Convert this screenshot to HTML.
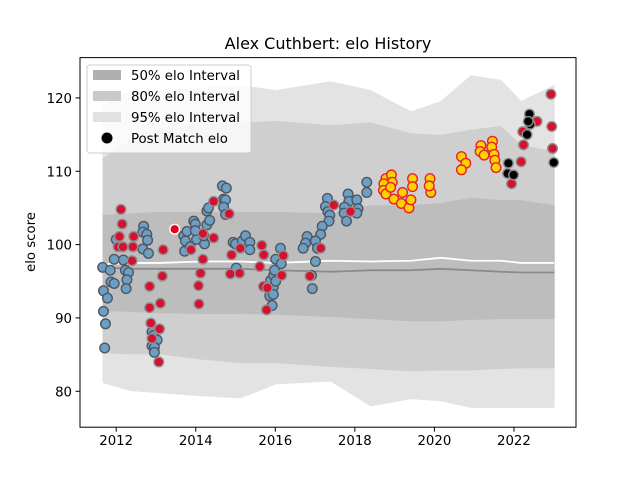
<!DOCTYPE html>
<html><head><meta charset="utf-8"><style>
body{margin:0;background:#fff}
svg{display:block;font-family:"DejaVu Sans","Liberation Sans",sans-serif}
</style></head><body>
<svg id="chart" width="640" height="480" xmlns="http://www.w3.org/2000/svg">
<rect width="640" height="480" fill="#fff"/>
<text x="328" y="49" font-size="16" text-anchor="middle">Alex Cuthbert: elo History</text>
<g id="plot"></g>
<g id="axes"></g>
<text transform="translate(35,242) rotate(-90)" font-size="13.3" text-anchor="middle">elo score</text>
<g>
<rect x="87" y="65" width="164" height="88" rx="3" fill="#fff" fill-opacity="0.8" stroke="#ccc"/>
<rect x="93" y="70" width="28" height="10" fill="#b0b0b0"/>
<text x="131" y="80" font-size="13.3">50% elo Interval</text>
<rect x="93" y="91" width="28" height="10" fill="#c9c9c9"/>
<text x="131" y="101" font-size="13.3">80% elo Interval</text>
<rect x="93" y="112" width="28" height="10" fill="#e1e1e1"/>
<text x="131" y="122" font-size="13.3">95% elo Interval</text>
<circle cx="107" cy="138" r="5.5" fill="#000"/>
<text x="131" y="143" font-size="13.3">Post Match elo</text>
</g>
</svg>
<script>
const bandYears=[2011.67,2012.35,2013.11,2014.12,2015.12,2016.01,2017.39,2018.40,2019.41,2020.16,2020.92,2021.67,2022.18,2023.01];
const hi95=[119.0,120.9,121.0,121.3,121.7,121.0,122.2,121.0,118.1,119.5,123.0,122.4,119.5,121.7];
const hi80=[111.7,114.2,115.6,116.5,116.5,116.8,116.2,116.6,115.1,114.9,115.6,116.1,113.5,112.7];
const hi50=[104.0,104.2,104.4,104.4,104.4,104.4,104.2,105.3,105.3,105.6,106.3,106.0,106.0,105.3];
const lo50=[91.0,90.9,90.7,90.6,90.6,90.5,90.2,89.9,89.6,89.6,89.8,89.9,89.9,89.9];
const lo80=[85.3,85.1,85.1,84.4,83.9,83.9,83.4,83.1,82.8,82.9,82.9,83.1,83.2,83.2];
const lo95=[81.2,80.1,79.8,79.4,79.1,81.0,81.4,78.0,79.0,78.7,77.8,77.8,77.8,77.8];
const meanWhite=[97.3,97.5,97.5,97.7,97.7,97.5,97.8,97.7,97.8,98.2,97.8,97.8,97.5,97.5];
const meanGrey=[96.9,96.7,96.7,96.7,96.7,96.5,96.3,96.5,96.5,96.7,96.5,96.3,96.2,96.2];
const blueYears=[2011.66,2011.68,2011.78,2011.68,2011.73,2011.71,2011.85,2011.95,2011.87,2011.95,2012.00,2012.18,2012.23,2012.31,2012.27,2012.25,2012.69,2012.67,2012.77,2012.79,2012.67,2012.81,2012.90,2012.94,2013.03,2012.90,2012.96,2012.96,2013.70,2013.74,2013.78,2013.72,2013.86,2013.95,2013.99,2014.02,2013.99,2014.22,2014.20,2014.28,2014.35,2014.28,2014.32,2014.67,2014.77,2014.70,2014.75,2014.70,2014.75,2014.94,2015.00,2015.17,2015.25,2015.36,2015.36,2015.02,2016.13,2015.88,2015.95,2015.86,2015.95,2015.92,2016.01,2016.15,2015.96,2015.98,2016.01,2017.31,2017.26,2017.32,2017.37,2017.35,2017.18,2017.14,2016.80,2016.76,2016.70,2017.01,2017.06,2017.01,2016.93,2016.91,2017.83,2017.85,2017.74,2017.73,2017.79,2018.05,2018.08,2018.05,2018.30,2018.30];
const blueElo=[96.9,93.7,92.7,90.9,89.2,85.9,96.5,98.0,94.9,94.7,100.7,97.9,96.5,96.2,95.2,94.0,102.5,101.7,101.4,100.6,99.4,98.8,88.1,87.6,87.0,86.2,86.0,85.3,101.2,100.5,101.8,99.1,99.7,103.2,102.8,100.7,101.9,100.1,101.2,102.7,103.3,104.6,105.0,108.0,107.7,106.2,106.1,105.1,104.1,100.3,100.1,100.5,101.2,100.3,99.3,96.8,99.5,95.1,94.2,93.0,93.2,91.7,98.0,97.4,95.8,96.5,95.0,106.3,105.2,104.5,104.0,103.2,102.5,101.4,101.1,100.2,99.5,100.5,99.5,97.7,94.0,95.8,106.9,105.9,105.1,104.3,103.2,106.1,104.9,104.3,108.5,107.1];
const redYears=[2012.12,2012.15,2012.08,2012.05,2012.17,2012.44,2012.42,2012.40,2013.18,2013.16,2012.84,2012.84,2013.11,2012.87,2013.09,2012.90,2013.07,2013.88,2014.18,2014.45,2014.84,2014.45,2014.18,2014.12,2014.07,2014.08,2014.87,2015.10,2014.90,2015.12,2015.66,2015.71,2015.61,2015.70,2015.80,2015.78,2016.16,2016.20,2017.47,2017.89,2017.14,2016.87,2022.93,2022.58,2022.22,2022.24,2022.18,2021.94,2022.95,2022.97];
const redElo=[104.8,102.8,101.1,99.7,99.7,101.1,99.7,97.8,99.3,95.7,94.3,91.4,92.0,89.3,88.5,87.2,84.0,99.3,101.5,105.9,104.2,100.9,98.0,96.1,94.4,91.9,96.0,96.1,98.6,99.5,99.9,98.6,97.0,94.3,94.1,91.1,95.8,98.5,105.4,104.5,99.5,95.7,120.5,116.8,115.4,113.6,111.3,108.3,116.1,113.1];
const specialYears=[2013.47];
const specialElo=[102.1];
const goldYears=[2018.78,2018.92,2018.94,2018.73,2018.72,2018.78,2018.90,2018.98,2019.20,2019.17,2019.36,2019.41,2019.45,2019.45,2019.89,2019.91,2019.87,2020.68,2020.79,2020.68,2021.17,2021.15,2021.25,2021.46,2021.44,2021.50,2021.52,2021.55];
const goldElo=[109.0,109.5,108.5,108.3,107.4,106.9,107.8,106.2,107.1,105.6,105.0,106.1,109.0,107.9,109.0,107.1,108.0,112.0,111.1,110.2,113.5,112.7,112.2,114.1,113.3,112.3,111.5,110.5];
const blackYears=[2022.39,2022.41,2022.33,2022.36,2021.86,2021.84,2021.99,2023.00];
const blackElo=[117.8,116.4,115.0,116.8,111.1,109.7,109.5,111.2];
const xTicks=[2012,2014,2016,2018,2020,2022];
const yTicks=[80,90,100,110,120];

const NS="http://www.w3.org/2000/svg";
const L=80,R=576,T=57.6,B=427.2;
const X0=2011.09,X1=2023.56,Y0=75.1,Y1=125.5;
const sx=v=>L+(v-X0)/(X1-X0)*(R-L);
const sy=v=>B-(v-Y0)/(Y1-Y0)*(B-T);
const plot=document.getElementById('plot');
const axes=document.getElementById('axes');
function mk(tag,attrs,parent){const e=document.createElementNS(NS,tag);for(const k in attrs)e.setAttribute(k,attrs[k]);parent.appendChild(e);return e;}
function band(hi,lo,fill,name){
  let d='M'+bandYears.map((y,i)=>sx(y)+','+sy(hi[i])).join('L');
  for(let i=bandYears.length-1;i>=0;i--)d+='L'+sx(bandYears[i])+','+sy(lo[i]);
  const p=mk('path',{d:d+'Z',fill:fill,stroke:fill},plot);
  
  
}
band(hi95,lo95,'#e3e3e3','band-95');
band(hi80,lo80,'#cfcfcf','band-80');
band(hi50,lo50,'#bdbdbd','band-50');
function line(vals,color,name){
  const p=mk('polyline',{points:bandYears.map((y,i)=>sx(y)+','+sy(vals[i])).join(' '),fill:'none',stroke:color,'stroke-width':1.8},plot);
  
  
}
line(meanGrey,'#8a8a8a','mean-line-grey');
line(meanWhite,'#ffffff','mean-line-white');
function pts(xs,ys,fill,stroke,name){
  xs.forEach((y,i)=>{
    const c=mk('circle',{cx:sx(y),cy:sy(ys[i]),r:4.8,fill:fill,stroke:stroke,'stroke-width':1.4},plot);
    
    
  });
}
pts(blueYears,blueElo,'#6d9fc4','#4f5760','point-blue');
pts(redYears,redElo,'#d6102f','#8f8f8f','point-red');
pts(specialYears,specialElo,'#e8001c','#ffffff','point-red-special');
pts(goldYears,goldElo,'#ffd200','#e8202a','point-gold');
pts(blackYears,blackElo,'#000000','#8f8f8f','point-black');
mk('rect',{x:L,y:T,width:R-L,height:B-T,fill:'none',stroke:'#000','stroke-width':1},axes);
xTicks.forEach(t=>{
  const x=sx(t);
  mk('line',{x1:x,x2:x,y1:B,y2:B+4.5,stroke:'#000'},axes);
  const tx=mk('text',{x:x,y:B+18,'font-size':13.3,'text-anchor':'middle'},axes);
  tx.textContent=t;
  
  
});
yTicks.forEach(t=>{
  const y=sy(t);
  mk('line',{x1:L-4.5,x2:L,y1:y,y2:y,stroke:'#000'},axes);
  const tx=mk('text',{x:L-8,y:y+5,'font-size':13.3,'text-anchor':'end'},axes);
  tx.textContent=t;
  
  
});
</script>
</body></html>
